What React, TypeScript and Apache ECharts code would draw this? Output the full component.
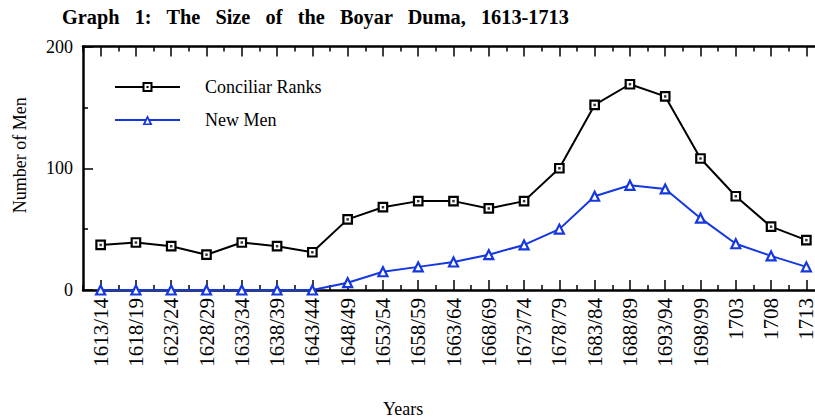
import React, { useEffect, useRef } from "react";
import * as echarts from "echarts";

const categories = [
  "1613/14", "1618/19", "1623/24", "1628/29", "1633/34", "1638/39", "1643/44",
  "1648/49", "1653/54", "1658/59", "1663/64", "1668/69", "1673/74", "1678/79",
  "1683/84", "1688/89", "1693/94", "1698/99", "1703", "1708", "1713",
];
const conciliarRanks = [37, 39, 36, 29, 39, 36, 31, 58, 68, 73, 73, 67, 73, 100, 152, 169, 159, 108, 77, 52, 41];
const newMen = [0, 0, 0, 0, 0, 0, 0, 6, 15, 19, 23, 29, 37, 50, 77, 86, 83, 59, 38, 28, 19];
const yTicks = { min: 0, max: 200, interval: 100 };

const FONT = "'Liberation Serif', 'Times New Roman', serif";
const BLUE = "#1437e0";

const squareIcon =
  "path://M0 4H27.5V6H0Z M27.5 0H37.5V10H27.5Z M29.5 2V8H35.5V2Z M31.5 4H33.5V6H31.5Z M37.5 4H65V6H37.5Z";
const triangleIcon =
  "path://M0 4H30.5V6H0Z M27.5 10L32.5 0L37.5 10Z M30.3 8.4L34.7 8.4L32.5 4Z M34.5 4H65V6H34.5Z";

export default function App() {
  const ref = useRef<HTMLDivElement>(null);
  useEffect(() => {
    document.body.style.margin = "0";
    if (!ref.current) return;
    const chart = echarts.init(ref.current, null, { renderer: "svg" });
    const axisLine = { show: true, onZero: false, lineStyle: { color: "#000", width: 2.5 } };
    const baseX = {
      type: "category",
      data: categories,
      boundaryGap: true,
      splitLine: { show: false },
    };
    chart.setOption({
      animation: false,
      textStyle: { fontFamily: FONT, color: "#000" },
      title: [
        {
          text: "Graph   1:   The   Size   of   the   Boyar   Duma,   1613-1713",
          left: 57,
          top: 2,
          textStyle: { fontFamily: FONT, fontWeight: "bold", fontSize: 20.3, color: "#000" },
        },
        {
          text: "Years",
          left: 378,
          top: 395,
          textStyle: { fontFamily: FONT, fontWeight: "normal", fontSize: 18, color: "#000" },
        },
      ],
      grid: { left: 83, top: 46.5, width: 741, height: 243.5, outerBoundsMode: "none", containLabel: false },
      legend: {
        left: 110,
        top: 72,
        orient: "vertical",
        itemWidth: 65,
        itemHeight: 10,
        itemGap: 13,
        textStyle: { fontFamily: FONT, fontSize: 18, color: "#000", lineHeight: 20, padding: [0, 0, 0, 20] },
        data: [
          { name: "Conciliar Ranks", icon: squareIcon, itemStyle: { color: "#000", borderWidth: 0 } },
          { name: "New Men", icon: triangleIcon, itemStyle: { color: BLUE, borderWidth: 0 } },
        ],
      },
      xAxis: [
        {
          ...baseX,
          position: "bottom",
          axisLine,
          axisTick: { show: true, inside: true, alignWithLabel: true, interval: 0, length: 10, lineStyle: { color: "#000", width: 1.5 } },
          axisLabel: { rotate: 90, interval: 0, fontSize: 21, lineHeight: 17, margin: 8, color: "#000", fontFamily: FONT },
        },
        {
          ...baseX,
          position: "bottom",
          axisLine: { show: false, onZero: false },
          axisTick: { show: true, inside: true, alignWithLabel: false, interval: 0, length: 5, lineStyle: { color: "#000", width: 1.5 } },
          axisLabel: { show: false },
        },
        {
          ...baseX,
          position: "top",
          axisLine,
          axisTick: { show: true, inside: true, alignWithLabel: true, interval: 0, length: 10, lineStyle: { color: "#000", width: 1.5 } },
          axisLabel: { show: false },
        },
        {
          ...baseX,
          position: "top",
          axisLine: { show: false, onZero: false },
          axisTick: { show: true, inside: true, alignWithLabel: false, interval: 0, length: 5, lineStyle: { color: "#000", width: 1.5 } },
          axisLabel: { show: false },
        },
      ],
      yAxis: {
        type: "value",
        min: yTicks.min,
        max: yTicks.max,
        interval: yTicks.interval,
        axisLine: { show: true, onZero: false, lineStyle: { color: "#000", width: 2.5 } },
        axisTick: { show: true, inside: true, length: 10, lineStyle: { color: "#000", width: 1.5 } },
        minorTick: { show: true, splitNumber: 2, length: 5, lineStyle: { color: "#000", width: 1.5 } },
        splitLine: { show: false },
        minorSplitLine: { show: false },
        axisLabel: { fontSize: 18, margin: 10, color: "#000", fontFamily: FONT },
        name: "Number of Men",
        nameLocation: "middle",
        nameGap: 54,
        nameTextStyle: { fontSize: 18, fontFamily: FONT, color: "#000", padding: [0, 0, 0, 26] },
      },
      series: [
        {
          name: "Conciliar Ranks",
          type: "line",
          data: conciliarRanks,
          symbol: "rect",
          symbolSize: 8.5,
          showAllSymbol: true,
          lineStyle: { color: "#000", width: 2 },
          itemStyle: { color: "#fff", borderColor: "#000", borderWidth: 2.2 },
          z: 3,
        },
        {
          name: "Conciliar Ranks dots",
          type: "scatter",
          data: conciliarRanks,
          symbol: "rect",
          symbolSize: 2.5,
          itemStyle: { color: "#000" },
          z: 4,
          silent: true,
        },
        {
          name: "New Men",
          type: "line",
          data: newMen,
          symbol: "triangle",
          symbolSize: 9,
          showAllSymbol: true,
          lineStyle: { color: BLUE, width: 2 },
          itemStyle: { color: "#fff", borderColor: BLUE, borderWidth: 2.2 },
          z: 3,
        },
      ],
    });
    return () => chart.dispose();
  }, []);
  return (
    <div
      ref={ref}
      style={{ position: "absolute", left: 0, top: 0, width: 815, height: 419, background: "#fff" }}
    />
  );
}
